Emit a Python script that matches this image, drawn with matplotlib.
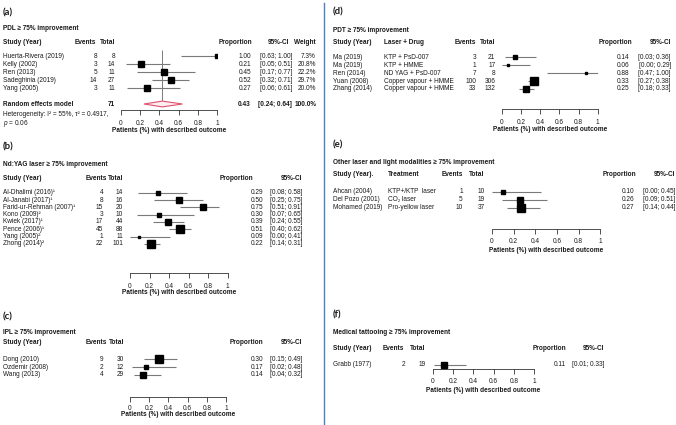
import matplotlib
matplotlib.use('Agg')
import matplotlib.pyplot as plt
import matplotlib.transforms as mtransforms
from matplotlib.patches import Polygon
import numpy as np

plt.rcParams['font.family'] = ['Liberation Sans', 'DejaVu Sans']
plt.rcParams['mathtext.fontset'] = 'custom'
plt.rcParams['mathtext.rm'] = 'Liberation Sans'
plt.rcParams['mathtext.it'] = 'Liberation Sans:italic'

W, H = 676, 425

# ---- (a) PDL
pdl_study = ['Huerta-Rivera (2019)', 'Kelly (2002)', 'Ren (2013)', 'Sadeghinia (2019)', 'Yang (2005)']
pdl_events = [8, 3, 5, 14, 3]
pdl_total = [8, 14, 11, 27, 11]
pdl_prop = [1.00, 0.21, 0.45, 0.52, 0.27]
pdl_lo = [0.63, 0.05, 0.17, 0.32, 0.06]
pdl_hi = [1.00, 0.51, 0.77, 0.71, 0.61]
pdl_weight = [7.3, 20.8, 22.2, 29.7, 20.0]
pdl_pooled = [0.43, 0.24, 0.64]
pdl_n = 71

# ---- (b) Nd:YAG
yag_study = ['Al-Dhalimi (2016)¹', 'Al-Janabi (2017)¹', 'Farid-ur-Rehman (2007)¹', 'Kono (2009)²',
             'Kwiek (2017)¹', 'Pence (2006)¹', 'Yang (2005)²', 'Zhong (2014)²']
yag_events = [4, 8, 15, 3, 17, 45, 1, 22]
yag_total = [14, 16, 20, 10, 44, 88, 11, 101]
yag_prop = [0.29, 0.50, 0.75, 0.30, 0.39, 0.51, 0.09, 0.22]
yag_lo = [0.08, 0.25, 0.51, 0.07, 0.24, 0.40, 0.00, 0.14]
yag_hi = [0.58, 0.75, 0.91, 0.65, 0.55, 0.62, 0.41, 0.31]

# ---- (c) IPL
ipl_study = ['Dong (2010)', 'Ozdemir (2008)', 'Wang (2013)']
ipl_events = [9, 2, 4]
ipl_total = [30, 12, 29]
ipl_prop = [0.30, 0.17, 0.14]
ipl_lo = [0.15, 0.02, 0.04]
ipl_hi = [0.49, 0.48, 0.32]

# ---- (d) PDT
pdt_study = ['Ma (2019)', 'Ma (2019)', 'Ren (2014)', 'Yuan (2008)', 'Zhang (2014)']
pdt_treat = ['KTP + PsD-007', 'KTP + HMME', 'ND YAG + PsD-007', 'Copper vapour + HMME', 'Copper vapour + HMME']
pdt_events = [3, 1, 7, 100, 33]
pdt_total = [21, 17, 8, 306, 132]
pdt_prop = [0.14, 0.06, 0.88, 0.33, 0.25]
pdt_lo = [0.03, 0.00, 0.47, 0.27, 0.18]
pdt_hi = [0.36, 0.29, 1.00, 0.38, 0.33]

# ---- (e) other laser / light
oth_study = ['Ahcan (2004)', 'Del Pozo (2001)', 'Mohamed (2019)']
oth_treat = ['KTP+/KTP  laser', 'CO₂ laser', 'Pro-yellow laser']
oth_events = [1, 5, 10]
oth_total = [10, 19, 37]
oth_prop = [0.10, 0.26, 0.27]
oth_lo = [0.00, 0.09, 0.14]
oth_hi = [0.45, 0.51, 0.44]

# ---- (f) medical tattooing
tat_study = ['Grabb (1977)']
tat_events = [2]
tat_total = [19]
tat_prop = [0.11]
tat_lo = [0.01]
tat_hi = [0.33]

xticks = [0, 0.2, 0.4, 0.6, 0.8, 1]
xticklabels = ['0', '0.2', '0.4', '0.6', '0.8', '1']

FS = 4.7
GREY = '#7a7a7a'
INK = '#1a1a1a'


def fx(x):
    return x / W


def fy(y):
    return 1 - y / H


def box_sizes(events, totals, tau2=0.15, smax=5.4):
    # square side ~ sqrt of random-effects weight (logit scale)
    e = np.array(events, float)
    n = np.array(totals, float)
    e = np.where((e == 0) | (e == n), e + 0.5, e)
    n = np.where(e != np.array(events), n + 1, n)
    w = e * (n - e) / n
    wr = 1 / (1 / w + tau2)
    return smax * np.sqrt(wr / wr.max())


def forest(fig, L, study, events, total, prop, lo, hi, sizes, treat=None, weight=None):
    r0, dr = L['row0'], L['drow']
    ax = fig.add_axes([fx(L['x0']), fy(L['axis_y']), fx(L['x1'] - L['x0']),
                       (L['axis_y'] - L['top']) / H])
    ax.set_xlim(0, 1)
    ax.set_ylim((L['axis_y'] - r0) / dr, (L['top'] - r0) / dr)
    ax.patch.set_visible(False)
    for s in ['top', 'left', 'right']:
        ax.spines[s].set_visible(False)
    ax.spines['bottom'].set_linewidth(0.6)
    ax.spines['bottom'].set_color('#333333')
    ax.set_yticks([])
    pad = ((L['tick_y'] - L['axis_y']) - 2.4 - 4.6) * 0.72
    ax.set_xticks(xticks)
    ax.set_xticklabels(xticklabels)
    ax.tick_params(axis='x', length=3.3, width=0.6, color='#333333', labelsize=FS, pad=pad,
                   labelcolor=INK)

    rows = np.arange(len(study))
    ax.hlines(rows, lo, hi, color=GREY, lw=0.8, zorder=2)
    for i in rows:
        ax.plot(prop[i], i, 's', ms=sizes[i], color='black', mec='black', zorder=3)

    tr = mtransforms.blended_transform_factory(fig.transFigure, ax.transData)
    kw = dict(transform=tr, fontsize=FS, va='center', color=INK)
    for i in rows:
        ax.text(fx(L['c_study']), i, study[i], ha='left', **kw)
        if treat is not None:
            ax.text(fx(L['c_treat']), i, treat[i], ha='left', **kw)
        ax.text(fx(L['c_events']), i, str(events[i]), ha='right', **kw)
        ax.text(fx(L['c_total']), i, str(total[i]), ha='right', **kw)
        ax.text(fx(L['c_prop']), i, f'{prop[i]:.2f}', ha='right', **kw)
        ax.text(fx(L['c_ci']), i, f'[{lo[i]:.2f}; {hi[i]:.2f}]', ha='right', **kw)
        if weight is not None:
            ax.text(fx(L['c_w']), i, f'{weight[i]:.1f}%', ha='right', **kw)

    # panel label, title, header
    fig.text(fx(L['lab_x']), fy(L['lab_y']), L['label'], fontsize=6.8, fontweight='bold',
             family=['Lato', 'DejaVu Sans'], va='center', color=INK)
    hk = dict(fontsize=FS, fontweight='bold', va='center', color=INK)
    fig.text(fx(L['c_study']), fy(L['title_y']), L['title'], **hk)
    hy = fy(L['head_y'])
    fig.text(fx(L['c_study']), hy, L['h_study'], **hk)
    if treat is not None:
        fig.text(fx(L['c_treat']), hy, L['h_treat'], **hk)
    fig.text(fx(L['h_events']), hy, 'Events', ha='right', **hk)
    fig.text(fx(L['h_total']), hy, 'Total', ha='right', **hk)
    fig.text(fx(L['h_prop']), hy, 'Proportion', ha='right', **hk)
    fig.text(fx(L.get('h_ci', L['c_ci'])), hy, '95%-CI', ha='right', **hk)
    if weight is not None:
        fig.text(fx(L['c_w']), hy, 'Weight', ha='right', **hk)
    fig.text(fx((L['x0'] + L['x1']) / 2), fy(L['xlab_y']), 'Patients (%) with described outcome',
             ha='center', **hk)
    return ax, tr


fig = plt.figure(figsize=(W / 100, H / 100), dpi=100)

# (a)
La = dict(label='(a)', lab_x=3, lab_y=13, title='PDL ≥ 75% improvement', title_y=29, head_y=42,
          h_study='Study (Year)', row0=56, drow=8, top=47, x0=121, x1=217, axis_y=110, tick_y=122.5,
          xlab_y=130, c_study=3, c_events=97, c_total=115, h_events=96, h_total=115,
          c_prop=251, h_prop=252, c_ci=292, h_ci=289, c_w=316)
pdl_sizes = 5.0 * np.sqrt(np.array(pdl_weight) / max(pdl_weight))
ax, tr = forest(fig, La, pdl_study, pdl_events, pdl_total, pdl_prop, pdl_lo, pdl_hi, pdl_sizes,
                weight=pdl_weight)
pool_row = (104 - La['row0']) / La['drow']
p, plo, phi = pdl_pooled
ax.vlines(p, (La['top'] + 3 - La['row0']) / La['drow'], pool_row - 0.36, color=GREY, lw=0.7, zorder=1)
ax.add_patch(Polygon([(plo, pool_row), (p, pool_row - 0.36), (phi, pool_row), (p, pool_row + 0.36)],
                     closed=True, facecolor='#fdeef1', edgecolor='#e0506e', lw=0.8, zorder=3))
kw = dict(transform=tr, fontsize=FS, fontweight='bold', va='center', color=INK)
ax.text(fx(3), pool_row, 'Random effects model', ha='left', **kw)
ax.text(fx(115), pool_row, str(pdl_n), ha='right', **kw)
ax.text(fx(251), pool_row, f'{p:.2f}', ha='right', **kw)
ax.text(fx(292), pool_row, f'[{plo:.2f}; {phi:.2f}]', ha='right', **kw)
ax.text(fx(317), pool_row, '100.0%', ha='right', **kw)
fig.text(fx(3), fy(115), 'Heterogeneity: I² = 55%, τ² = 0.4917,', fontsize=FS, va='center', color=INK)
fig.text(fx(3), fy(123.5), '$p$ = 0.06', fontsize=FS, va='center', color=INK)

# (b)
Lb = dict(label='(b)', lab_x=3, lab_y=147, title='Nd:YAG laser ≥ 75% improvement', title_y=164,
          head_y=178, h_study='Study (Year)', row0=192.7, drow=7.3, top=186, x0=130, x1=227.7,
          axis_y=273.3, tick_y=285.5, xlab_y=292.5, c_study=3, c_events=103, c_total=123,
          h_events=107, h_total=123, c_prop=263, h_prop=253, c_ci=302)
forest(fig, Lb, yag_study, yag_events, yag_total, yag_prop, yag_lo, yag_hi,
       box_sizes(yag_events, yag_total))

# (c)
Lc = dict(label='(c)', lab_x=3, lab_y=317, title='IPL ≥ 75% improvement', title_y=333, head_y=343,
          h_study='Study (Year)', row0=359.3, drow=7.8, top=353, x0=130, x1=226, axis_y=397,
          tick_y=407, xlab_y=415, c_study=3, c_events=103, c_total=124, h_events=107, h_total=124,
          c_prop=263, h_prop=263, c_ci=302)
forest(fig, Lc, ipl_study, ipl_events, ipl_total, ipl_prop, ipl_lo, ipl_hi,
       box_sizes(ipl_events, ipl_total))

# (d)
Ld = dict(label='(d)', lab_x=333, lab_y=12, title='PDT ≥ 75% improvement', title_y=30, head_y=43,
          h_study='Study (Year)', h_treat='Laser + Drug', row0=57.3, drow=7.9, top=51, x0=502,
          x1=597.7, axis_y=109.3, tick_y=121.5, xlab_y=129.5, c_study=333, c_treat=383.7,
          c_events=476, c_total=495.3, h_events=476, h_total=495.3, c_prop=629.3, h_prop=632, c_ci=671)
forest(fig, Ld, pdt_study, pdt_events, pdt_total, pdt_prop, pdt_lo, pdt_hi,
       box_sizes(pdt_events, pdt_total), treat=pdt_treat)

# (e)
Le = dict(label='(e)', lab_x=333, lab_y=145, title='Other laser and light modalities ≥ 75% improvement',
          title_y=163, head_y=175, h_study='Study (Year).', h_treat='Treatment', row0=191.7, drow=8,
          top=185, x0=492, x1=600.3, axis_y=229.3, tick_y=240, xlab_y=250, c_study=333,
          c_treat=388.3, c_events=462.7, c_total=485, h_events=462.7, h_total=484, c_prop=634,
          h_prop=636, c_ci=675.3)
forest(fig, Le, oth_study, oth_events, oth_total, oth_prop, oth_lo, oth_hi,
       box_sizes(oth_events, oth_total), treat=oth_treat)

# (f)
Lf = dict(label='(f)', lab_x=333, lab_y=315, title='Medical tattooing ≥ 75% improvement', title_y=333,
          head_y=349, h_study='Study (Year)', row0=365, drow=8, top=359, x0=432.7, x1=534.3,
          axis_y=369, tick_y=380.7, xlab_y=390, c_study=333, c_events=405.3, c_total=426,
          h_events=404.3, h_total=425.3, c_prop=566, h_prop=566, c_ci=604.3)
forest(fig, Lf, tat_study, tat_events, tat_total, tat_prop, tat_lo, tat_hi,
       box_sizes(tat_events, tat_total, smax=5.0))

# divider between the two columns
fig.add_artist(plt.Line2D([fx(324), fx(324)], [fy(3), fy(425)], color='#4f7fbf', lw=1.0))

fig.savefig('out.png', dpi=100)
